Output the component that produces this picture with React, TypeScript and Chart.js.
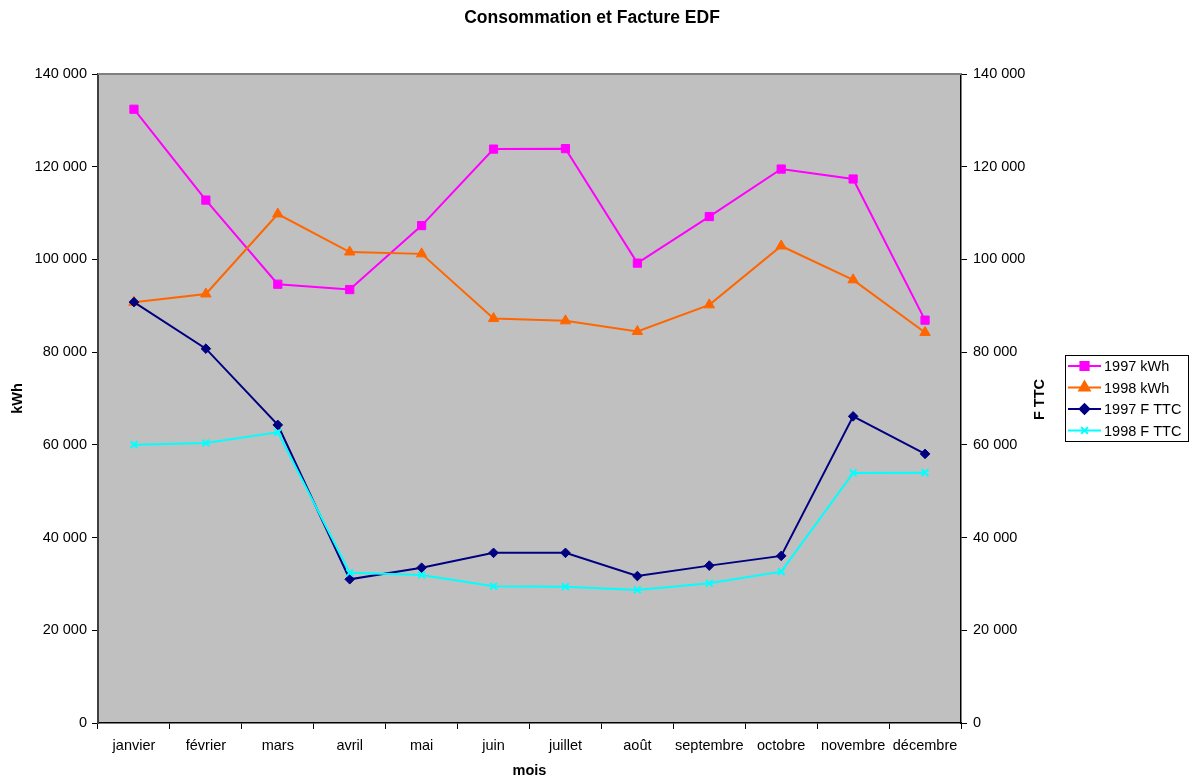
import React, { useEffect, useRef } from 'react';
import { Chart, registerables } from 'chart.js';
import { drawPoint } from 'chart.js/helpers';

Chart.register(...registerables);

const months = ['janvier', 'février', 'mars', 'avril', 'mai', 'juin', 'juillet', 'août', 'septembre', 'octobre', 'novembre', 'décembre'];
const kwh1997 = [132400, 112800, 94650, 93500, 107300, 123800, 123900, 99200, 109250, 119500, 117350, 86900];
const kwh1998 = [90750, 92550, 109800, 101600, 101200, 87250, 86750, 84450, 90200, 102900, 95600, 84250];
const fttc1997 = [90800, 80750, 64300, 31000, 33500, 36700, 36700, 31700, 33950, 36050, 66150, 58050];
const fttc1998 = [60050, 60400, 62700, 32400, 31950, 29500, 29400, 28700, 30150, 32650, 53950, 54000];
const seriesLabels = ['1997 kWh', '1998 kWh', '1997 F TTC', '1998 F TTC'];
const seriesColors = ['#FF00FF', '#FF6600', '#000080', '#00FFFF'];
const seriesStyles = ['rect', 'triangle', 'rectRot', 'crossRot'];
const seriesRadius = [5.8, 6, 4.8, 4.8];
const chartTitle = 'Consommation et Facture EDF';
const xTitle = 'mois';
const yLeftTitle = 'kWh';
const yRightTitle = 'F TTC';
const yMax = 140000;
const yStep = 20000;

const FONT = '"Liberation Sans", Arial, sans-serif';

const fmt = (v: number) => String(v).replace(/\B(?=(\d{3})+(?!\d))/g, ' ');

const decorPlugin = {
  id: 'decor',
  beforeDraw(chart: any) {
    const { ctx, chartArea: a } = chart;
    ctx.save();
    ctx.fillStyle = '#C0C0C0';
    ctx.fillRect(a.left, a.top, a.right - a.left, a.bottom - a.top);
    ctx.restore();
  },
  afterDraw(chart: any) {
    const { ctx, chartArea: a } = chart;
    ctx.save();
    // top border of plot area
    ctx.strokeStyle = '#808080';
    ctx.lineWidth = 2;
    ctx.beginPath();
    ctx.moveTo(a.left, a.top);
    ctx.lineTo(a.right, a.top);
    ctx.stroke();

    // chart title
    ctx.fillStyle = '#000';
    ctx.font = `bold 17.5px ${FONT}`;
    ctx.textAlign = 'center';
    ctx.textBaseline = 'middle';
    ctx.fillText(chartTitle, 592, 18);

    // right axis title, reading upward
    ctx.font = `bold 14.5px ${FONT}`;
    ctx.translate(1040, (a.top + a.bottom) / 2 + 1);
    ctx.rotate(-Math.PI / 2);
    ctx.fillText(yRightTitle, 0, 0);
    ctx.restore();

    // legend
    ctx.save();
    const bx = 1065, by = 355, bw = 123, bh = 86;
    ctx.fillStyle = '#FFFFFF';
    ctx.fillRect(bx, by, bw, bh);
    ctx.strokeStyle = '#000';
    ctx.lineWidth = 1;
    ctx.strokeRect(bx + 0.5, by + 0.5, bw, bh);
    ctx.font = `14.5px ${FONT}`;
    ctx.textAlign = 'left';
    ctx.textBaseline = 'middle';
    seriesLabels.forEach((lab, i) => {
      const y = by + 11 + i * 21.5;
      ctx.strokeStyle = seriesColors[i];
      ctx.fillStyle = seriesColors[i];
      ctx.lineWidth = 2;
      ctx.beginPath();
      ctx.moveTo(bx + 3, y);
      ctx.lineTo(bx + 36, y);
      ctx.stroke();
      drawPoint(ctx, { pointStyle: seriesStyles[i] as any, radius: seriesRadius[i], rotation: 0, borderWidth: i === 3 ? 2 : 1 }, bx + 19.5, y);
      ctx.fillStyle = '#000';
      ctx.fillText(lab, bx + 39, y + 1);
    });
    ctx.restore();
  },
};

export default function App() {
  const ref = useRef<HTMLCanvasElement>(null);
  useEffect(() => {
    if (!ref.current) return;
    const allData = [kwh1997, kwh1998, fttc1997, fttc1998];
    const chart = new Chart(ref.current, {
      type: 'line',
      data: {
        labels: months,
        datasets: allData.map((d, i) => ({
          label: seriesLabels[i],
          data: d,
          borderColor: seriesColors[i],
          backgroundColor: seriesColors[i],
          pointStyle: seriesStyles[i] as any,
          pointRadius: seriesRadius[i],
          pointBorderWidth: i === 3 ? 2 : 1,
          borderWidth: 2,
          tension: 0,
          fill: false,
          order: 4 - i,
          yAxisID: i < 2 ? 'y' : 'y1',
        })),
      },
      options: {
        responsive: false,
        animation: false,
        events: [],
        layout: { padding: { left: 0, right: 128, top: 74, bottom: 0 } },
        plugins: {
          legend: { display: false },
          tooltip: { enabled: false },
          title: { display: false },
        },
        scales: {
          x: {
            type: 'category',
            offset: true,
            grid: { offset: true, drawOnChartArea: false, drawTicks: true, tickLength: 6, color: '#000', lineWidth: 1 },
            border: { display: true, color: '#000', width: 1.5 },
            ticks: { color: '#000', font: { family: FONT, size: 14.5 }, padding: 8, maxRotation: 0, autoSkip: false },
            title: { display: true, text: xTitle, color: '#000', font: { family: FONT, size: 14.5, weight: 'bold' }, padding: { top: 0, bottom: -2 } },
            afterFit: (s: any) => { s.height = 55; },
          },
          y: {
            position: 'left',
            min: 0,
            max: yMax,
            ticks: { stepSize: yStep, color: '#000', font: { family: FONT, size: 14.5 }, padding: 5, callback: (v: any) => fmt(Number(v)) },
            grid: { drawOnChartArea: false, drawTicks: true, tickLength: 6, color: '#000' },
            border: { display: true, color: '#404040', width: 2 },
            title: { display: true, text: yLeftTitle, color: '#000', font: { family: FONT, size: 14.5, weight: 'bold' }, padding: { top: 9, bottom: 0 } },
            afterFit: (s: any) => { s.width = 98; },
          },
          y1: {
            position: 'right',
            min: 0,
            max: yMax,
            ticks: { stepSize: yStep, color: '#000', font: { family: FONT, size: 14.5 }, padding: 6, callback: (v: any) => fmt(Number(v)) },
            grid: { drawOnChartArea: false, drawTicks: true, tickLength: 6, color: '#000' },
            border: { display: true, color: '#000', width: 1.5 },
            title: { display: false },
            afterFit: (s: any) => { s.width = 104; },
          },
        },
      },
      plugins: [decorPlugin],
    } as any);
    return () => chart.destroy();
  }, []);
  return (
    <div style={{ position: 'fixed', left: 0, top: 0, width: 1193, height: 778, background: '#fff' }}>
      <canvas ref={ref} width={1193} height={778} />
    </div>
  );
}
